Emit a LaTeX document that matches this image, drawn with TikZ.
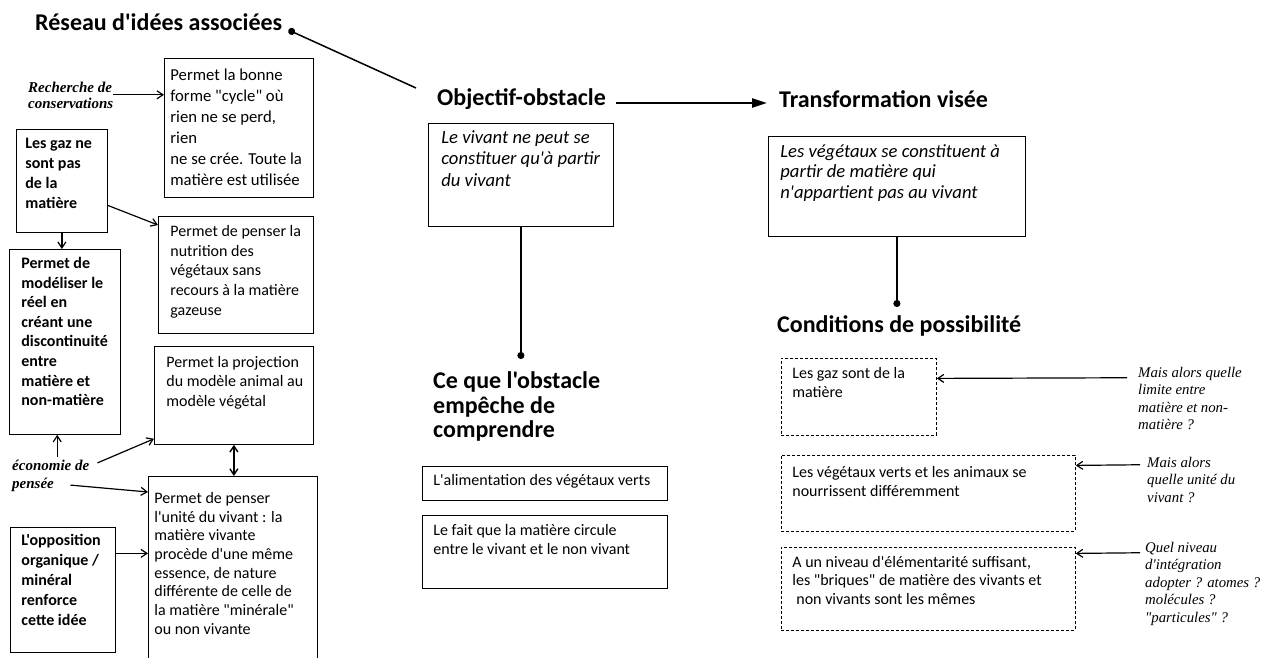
\documentclass[tikz,border=0pt]{standalone}
\usepackage{fontspec}
\usetikzlibrary{arrows.meta}
\newfontfamily\carlito{Carlito}
\newfontfamily\serifnote{Liberation Serif}

\newcommand{\corps}[2]{\carlito\fontsize{#1}{#2}\selectfont}
\newcommand{\bloc}[5]{\parbox[t][#2][t]{#1}{\raggedright\leftskip=#3\relax\vspace*{#4}\strut#5}}

\tikzset{
  cadre/.style={draw, line width=0.8pt, inner sep=0pt, anchor=north west},
  pointille/.style={cadre, dash pattern=on 3pt off 2pt},
  titre/.style={inner sep=0pt, anchor=base west, font={\carlito\bfseries\fontsize{24}{24}\selectfont}},
  note/.style={inner sep=0pt, anchor=north west, align=left, font={\serifnote\itshape\fontsize{14.8}{17.5}\selectfont}},
  noteg/.style={note, font={\serifnote\bfseries\itshape\fontsize{15}{16.5}\selectfont}},
  fleche/.style={line width=1.2pt, -{Straight Barb[length=6pt,width=8pt]}},
  lien/.style={line width=1.5pt},
}

\begin{document}
\begin{tikzpicture}[x=1pt, y=-1pt]
  \useasboundingbox (0,0) rectangle (1267,657);

  % titres
  \node[titre] (reseau) at (35,30) {Réseau d'idées associées};
  \node[titre] (objectif) at (437,105) {Objectif-obstacle};
  \node[titre] (transfo) at (779,107) {Transformation visée};
  \node[titre, anchor=north west, align=left] (ceque) at (433,371) {\strut Ce que l'obstacle\\empêche de\\comprendre};
  \node[titre] (conditions) at (777,332) {Conditions de possibilité};

  % reseau d'idees
  \node[noteg] (rech) at (28,80.5) {\strut Recherche de\\conservations};
  \node[cadre, font={\corps{16.7}{21}}] (cycle) at (164,58) {\bloc{149pt}{139pt}{6pt}{7.3pt}{Permet la bonne\\forme "cycle" où\\rien ne se perd,\\rien\\ne se crée. Toute la\\matière est utilisée}};
  \node[cadre, font={\corps{16}{20}\bfseries}] (gaz) at (16,129) {\bloc{91pt}{103pt}{9pt}{5pt}{Les gaz ne\\sont pas\\de la\\matière}};
  \node[cadre, font={\corps{16}{19.7}}] (nutrition) at (158,216) {\bloc{155pt}{117pt}{12pt}{6.2pt}{Permet de penser la\\nutrition des\\végétaux sans\\recours à la matière\\gazeuse}};
  \node[cadre, font={\corps{16}{19.6}\bfseries}] (modelise) at (9,249) {\bloc{111pt}{185pt}{12pt}{5.3pt}{Permet de\\modéliser le\\réel en\\créant une\\discontinuité\\entre\\matière et\\non-matière}};
  \node[cadre, font={\corps{16}{19.5}}] (projection) at (154,346) {\bloc{159pt}{98pt}{12pt}{7.35pt}{Permet la projection\\du modèle animal au\\modèle végétal}};
  \node[noteg, font={\serifnote\bfseries\itshape\fontsize{15}{18}\selectfont}] (econ) at (12,457.4) {\strut économie de\\pensée};
  \node[cadre, font={\corps{16}{18.7}}] (unite) at (148,476) {\bloc{169pt}{190pt}{6pt}{13.9pt}{Permet de penser\\l'unité du vivant : la\\matière vivante\\procède d'une même\\essence, de nature\\différente de celle de\\la matière "minérale"\\ou non vivante}};
  \node[cadre, font={\corps{16}{20}\bfseries}] (opposition) at (10,527) {\bloc{105pt}{125pt}{11pt}{4pt}{L'opposition\\organique /\\minéral\\renforce\\cette idée}};

  % obstacle
  \node[cadre, font={\corps{18.6}{21.5}\itshape}] (vivant) at (428,123) {\bloc{185pt}{103pt}{13pt}{4.95pt}{Le vivant ne peut se\\constituer qu'à partir\\du vivant}};
  \node[cadre, font={\corps{16}{19.5}}] (alimentation) at (422,466) {\bloc{245pt}{34pt}{11pt}{5.35pt}{L'alimentation des végétaux verts}};
  \node[cadre, font={\corps{16}{19}}] (circule) at (422,515) {\bloc{245pt}{73pt}{11pt}{6.7pt}{Le fait que la matière circule\\entre le vivant et le non vivant}};

  % transformation et conditions
  \node[cadre, font={\corps{18.6}{20.5}\itshape}] (vegetaux) at (768,136) {\bloc{257pt}{100pt}{12pt}{6.65pt}{Les végétaux se constituent à\\partir de matière qui\\n'appartient pas au vivant}};
  \node[pointille, font={\corps{16}{19.5}}] (gaz2) at (781,358) {\bloc{155pt}{77pt}{11pt}{6.35pt}{Les gaz sont de la\\matière}};
  \node[pointille, font={\corps{16}{19}}] (nourrir) at (781,455) {\bloc{294pt}{76pt}{11pt}{8.7pt}{Les végétaux verts et les animaux se\\nourrissent différemment}};
  \node[pointille, font={\corps{16}{18.5}}] (briques) at (781,547) {\bloc{294pt}{83pt}{11pt}{7.05pt}{A un niveau d'élémentarité suffisant,\\les "briques" de matière des vivants et\\\hspace*{4pt}non vivants sont les mêmes}};
  \node[note] (q1) at (1138,364.75) {\strut Mais alors quelle\\limite entre\\matière et non-\\matière ?};
  \node[note] (q2) at (1147,454.75) {\strut Mais alors\\quelle unité du\\vivant ?};
  \node[note] (q3) at (1145,539.75) {\strut Quel niveau\\d'intégration\\adopter ? atomes ?\\molécules ?\\"particules" ?};

  % liens
  \coordinate (finReseau) at (416,88);
  \coordinate (pointCeque) at (518,359);
  \coordinate (pointConditions) at (896,307);
  \draw[lien, {Circle[length=7pt]}-] ([xshift=6pt]reseau.base east) -- (finReseau);
  \draw[line width=2.5pt, -{Triangle[length=15pt,width=9pt]}] ([shift={(10pt,2pt)}]objectif.base east) -- ([shift={(-12pt,4pt)}]transfo.base west);
  \draw[lien, line width=1.8pt, -{Circle[length=7pt]}] (vivant.south) -- (vivant.south |- pointCeque);
  \draw[lien, line width=1.8pt, -{Circle[length=7pt]}] (vegetaux.south) -- (vegetaux.south |- pointConditions);

  % fleches
  \draw[fleche] (rech.east) -- (rech.east -| cycle.west);
  \draw[fleche] ([yshift=-24.5pt]gaz.east) -- ([yshift=-9pt]nutrition.north west);
  \draw[fleche] (gaz.south) -- (gaz.south |- modelise.north);
  \draw[fleche] ([xshift=6.5pt]econ.north) -- ([xshift=6.5pt]econ.north |- modelise.south);
  \draw[fleche] ([shift={(8pt,-5.5pt)}]econ.north east) -- ([yshift=6pt]projection.south west);
  \draw[fleche] ([shift={(-19pt,6.5pt)}]econ.south east) -- ([yshift=-16pt]unite.north west);
  \draw[fleche] ([yshift=36.5pt]opposition.east) -- ([yshift=36.5pt]opposition.east -| unite.west);
  \draw[fleche, line width=1.4pt, {Straight Barb[length=6pt,width=8pt]}-{Straight Barb[length=6pt,width=8pt]}] (projection.south) -- (projection.south |- unite.north);
  \draw[fleche] ([shift={(-11pt,-13pt)}]q1.north west) -- ([yshift=18.5pt]gaz2.east);
  \draw[fleche] ([shift={(-7pt,-10pt)}]q2.north west) -- ([yshift=28pt]nourrir.east);
  \draw[fleche] ([shift={(-5pt,-13pt)}]q3.north west) -- ([yshift=35.5pt]briques.east);
\end{tikzpicture}
\end{document}
